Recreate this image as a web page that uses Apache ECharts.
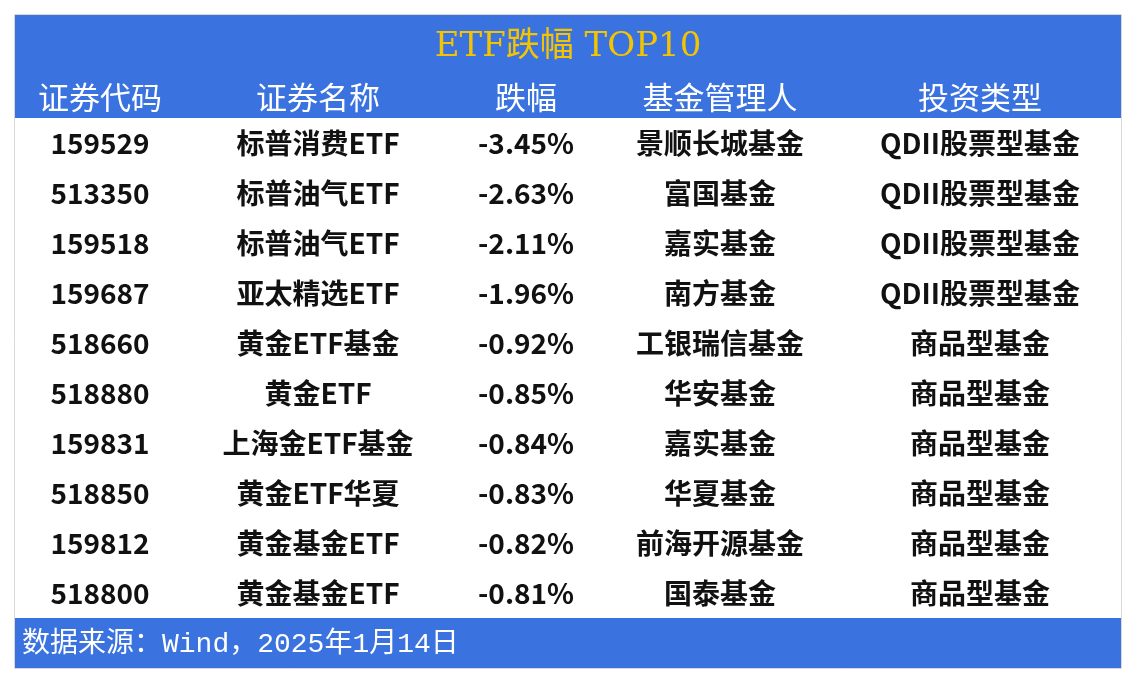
<!DOCTYPE html>
<html><head><meta charset="utf-8">
<script src="https://cdn.jsdelivr.net/npm/echarts@6/dist/echarts.min.js"></script>
<style>html,body{margin:0;padding:0;background:#fff}#c{width:1136px;height:684px}</style>
</head><body><div id="c"></div>
<script>
const title = 'ETF跌幅 TOP10';
const headers = ['证券代码','证券名称','跌幅','基金管理人','投资类型'];
const codes = ['159529','513350','159518','159687','518660','518880','159831','518850','159812','518800'];
const names = ['标普消费ETF','标普油气ETF','标普油气ETF','亚太精选ETF','黄金ETF基金','黄金ETF','上海金ETF基金','黄金ETF华夏','黄金基金ETF','黄金基金ETF'];
const changes = [-3.45,-2.63,-2.11,-1.96,-0.92,-0.85,-0.84,-0.83,-0.82,-0.81];
const managers = ['景顺长城基金','富国基金','嘉实基金','南方基金','工银瑞信基金','华安基金','嘉实基金','华夏基金','前海开源基金','国泰基金'];
const types = ['QDII股票型基金','QDII股票型基金','QDII股票型基金','QDII股票型基金','商品型基金','商品型基金','商品型基金','商品型基金','商品型基金','商品型基金'];
const source = '数据来源：Wind，2025年1月14日';

const colX = [100,318,526,720,980];
const rowY0 = 143, rowH = 50;
const g = [];
g.push({type:'rect',shape:{x:15,y:15,width:1106,height:103},style:{fill:'#3A72E0'}});
g.push({type:'rect',shape:{x:15,y:618,width:1106,height:50},style:{fill:'#3A72E0'}});
g.push({type:'rect',shape:{x:14.5,y:14.5,width:1107,height:654},style:{fill:null,stroke:'#d8d8d8',lineWidth:1}});
g.push({type:'text',x:568,y:47,style:{text:title,fill:'#F5C400',font:'34px "DejaVu Serif","Noto Sans CJK SC"',textAlign:'center',textVerticalAlign:'middle'}});
headers.forEach((h,i)=>g.push({type:'text',x:colX[i],y:97,style:{text:h,fill:'#fff',font:'31px "Noto Sans CJK SC"',textAlign:'center',textVerticalAlign:'middle'}}));
codes.forEach((c,r)=>{
  const vals=[c,names[r],changes[r].toFixed(2)+'%',managers[r],types[r]];
  vals.forEach((v,i)=>g.push({type:'text',x:colX[i],y:rowY0+r*rowH,style:{text:v,fill:'#111',font:'bold 28px "Noto Sans CJK SC"',textAlign:'center',textVerticalAlign:'middle'}}));
});
g.push({type:'text',x:22,y:645,style:{text:source,fill:'#fff',font:'28px "Liberation Mono","Noto Sans CJK SC"',textAlign:'left',textVerticalAlign:'middle'}});
const chart = echarts.init(document.getElementById('c'));
chart.setOption({animation:false,backgroundColor:'#fff',graphic:g});
</script></body></html>
